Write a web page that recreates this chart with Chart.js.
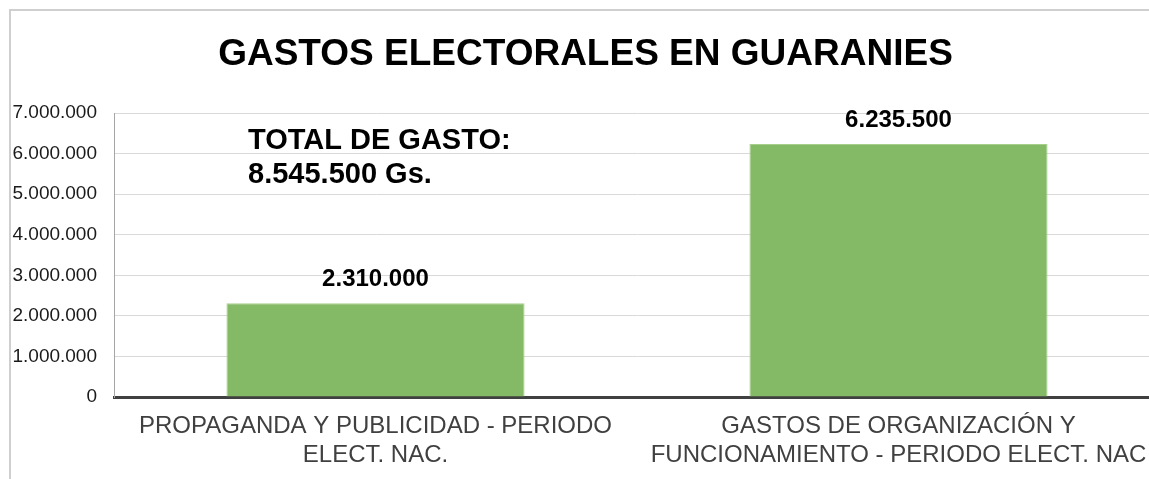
<!DOCTYPE html>
<html>
<head>
<meta charset="utf-8">
<title>Gastos electorales</title>
<script src="https://cdn.jsdelivr.net/npm/chart.js@4/dist/chart.umd.min.js"></script>
<style>
    html, body { margin: 0; padding: 0; background: #fff; overflow: hidden; width: 1149px; height: 479px; }
    #frame {
        position: absolute; left: 9px; top: 9px;
        border-left: 2px solid #cfcfcf; border-top: 2px solid #cfcfcf;
        width: 1160px; height: 480px;
    }
    canvas { display: block; }
</style>
</head>
<body>
<div id="frame">
    <canvas id="gastosChart" width="1150" height="480"></canvas>
</div>
<script>
// =================== DATA =================== //
const categories = [
    ['PROPAGANDA Y PUBLICIDAD - PERIODO', 'ELECT. NAC.'],
    ['GASTOS DE ORGANIZACIÓN Y', 'FUNCIONAMIENTO - PERIODO ELECT. NAC']
];
const gastos = [2310000, 6235500];
const yTicksMax = 7000000;
const yTicksStep = 1000000;
const chartTitle = 'GASTOS ELECTORALES EN GUARANIES';
const totalLines = ['TOTAL DE GASTO:', '8.545.500 Gs.'];

const FONT = '"Liberation Sans", Arial, sans-serif';

// format 1234567 -> 1.234.567
function puntos(n) {
    return String(Math.round(n)).replace(/\B(?=(\d{3})+(?!\d))/g, '.');
}

// =================== LABELS PLUGIN =================== //
const valueLabels = {
    id: 'valueLabels',
    afterDatasetsDraw(chart) {
        const ctx = chart.ctx;
        ctx.save();
        ctx.fillStyle = '#000';
        ctx.textAlign = 'center';
        ctx.textBaseline = 'middle';
        ctx.font = 'bold 24px ' + FONT;
        chart.getDatasetMeta(0).data.forEach((bar, i) => {
            ctx.fillText(puntos(gastos[i]), bar.x, bar.y - 24);
        });

        // total box text
        ctx.textAlign = 'left';
        ctx.font = 'bold 29px ' + FONT;
        ctx.fillText(totalLines[0], 237, 130);
        ctx.fillText(totalLines[1], 237, 164);
        ctx.restore();
    }
};

// =================== CHART =================== //
const ctx = document.getElementById('gastosChart').getContext('2d');
new Chart(ctx, {
    type: 'bar',
    data: {
        labels: categories,
        datasets: [{
            data: gastos,
            backgroundColor: '#84ba65',
            borderColor: '#a6cf8c',
            borderWidth: 1,
            barPercentage: 0.57,
            categoryPercentage: 1
        }]
    },
    options: {
        responsive: false,
        animation: false,
        layout: { padding: { left: 0, right: 1, top: 0, bottom: 0 } },
        plugins: {
            legend: { display: false },
            tooltip: { enabled: false },
            title: {
                display: true,
                text: chartTitle,
                color: '#000',
                font: { family: FONT, size: 37, weight: 'bold', lineHeight: 1.2 },
                padding: { top: 22, bottom: 35.6 }
            }
        },
        scales: {
            x: {
                grid: { display: false },
                border: { display: true, color: '#404040', width: 3 },
                ticks: {
                    color: '#404040',
                    padding: 7,
                    maxRotation: 0,
                    autoSkip: false,
                    font: { family: FONT, size: 24, lineHeight: '29px' }
                },
                afterFit(scale) { scale.height = 94; }
            },
            y: {
                min: 0,
                max: yTicksMax,
                grid: { color: '#d9d9d9', lineWidth: 1, drawTicks: false },
                border: { display: true, color: '#a6a6a6', width: 1 },
                ticks: {
                    stepSize: yTicksStep,
                    color: '#1a1a1a',
                    padding: 17,
                    font: { family: FONT, size: 19 },
                    callback: v => puntos(v)
                },
                afterFit(scale) { scale.width = 103; }
            }
        }
    },
    plugins: [valueLabels]
});
</script>
</body>
</html>
